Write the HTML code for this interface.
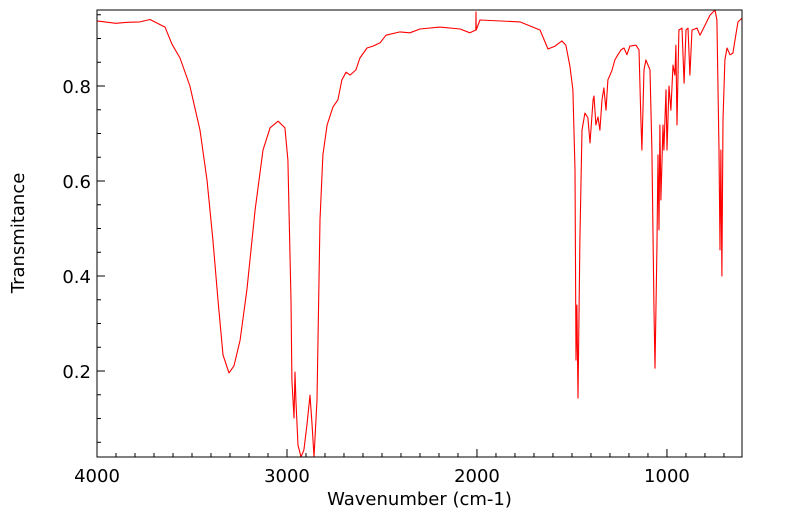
<!DOCTYPE html>
<html><head><meta charset="utf-8">
<style>
html,body{margin:0;padding:0;background:#fff;}
svg{display:block;font-family:"DejaVu Sans","Liberation Sans",sans-serif;}
</style></head>
<body>
<svg id="chart" width="799" height="516"></svg>
<script>
const wavenumbers=[4000,3900,3850,3774,3721,3642,3605,3563,3511,3458,3421,3390,3363,3337,3305,3279,3247,3211,3168,3126,3089,3047,3011,2995,2979,2974,2963,2958,2953,2942,2926,2911,2895,2879,2868,2858,2842,2826,2811,2789,2758,2732,2711,2689,2668,2637,2616,2579,2547,2510,2479,2405,2353,2300,2195,2089,2037,2006,2005,2004,1984,1774,1668,1626,1589,1553,1532,1511,1495,1484,1479,1474,1468,1458,1447,1432,1416,1405,1389,1384,1374,1363,1353,1342,1332,1321,1311,1300,1289,1274,1258,1242,1226,1211,1195,1163,1147,1137,1132,1121,1111,1100,1089,1079,1068,1063,1053,1047,1042,1037,1032,1021,1016,1005,1000,989,979,968,958,953,947,937,921,910,900,889,879,868,842,826,800,774,747,737,726,721,716,711,705,695,684,668,653,642,626,605];
const transmittance=[0.937,0.932,0.934,0.935,0.94,0.924,0.888,0.859,0.80,0.707,0.602,0.476,0.349,0.234,0.196,0.211,0.265,0.371,0.539,0.665,0.712,0.726,0.712,0.644,0.349,0.181,0.101,0.198,0.139,0.044,0.019,0.034,0.086,0.149,0.086,0.019,0.139,0.518,0.655,0.718,0.756,0.771,0.813,0.829,0.823,0.834,0.859,0.88,0.884,0.891,0.907,0.914,0.912,0.92,0.924,0.92,0.912,0.918,0.956,0.918,0.939,0.935,0.918,0.878,0.884,0.895,0.886,0.842,0.792,0.623,0.223,0.339,0.143,0.476,0.707,0.743,0.733,0.68,0.771,0.779,0.718,0.735,0.707,0.771,0.796,0.749,0.813,0.823,0.834,0.855,0.866,0.876,0.88,0.866,0.884,0.886,0.876,0.728,0.665,0.834,0.855,0.844,0.834,0.665,0.328,0.206,0.455,0.655,0.497,0.718,0.56,0.718,0.665,0.792,0.665,0.80,0.749,0.844,0.823,0.886,0.718,0.918,0.922,0.806,0.918,0.922,0.823,0.918,0.922,0.907,0.928,0.949,0.96,0.939,0.665,0.455,0.665,0.40,0.728,0.855,0.88,0.866,0.869,0.897,0.935,0.943];
const xTickLabels=[4000,3000,2000,1000];
const yTickLabels=[0.2,0.4,0.6,0.8];

const NS="http://www.w3.org/2000/svg";
const svg=document.getElementById('chart');
const L=97,R=742,T=10,B=457;
const xMax=4000,xMin=605,yMin=0.019,yMax=0.96;
const xs=v=>L+(xMax-v)/(xMax-xMin)*(R-L);
const ys=v=>B-(v-yMin)/(yMax-yMin)*(B-T);
function mk(tag,attrs){const e=document.createElementNS(NS,tag);for(const k in attrs)e.setAttribute(k,attrs[k]);svg.appendChild(e);return e;}

let d='';
wavenumbers.forEach((w,i)=>{d+=(i?'L':'M')+xs(w).toFixed(1)+','+ys(transmittance[i]).toFixed(1);});
const line=mk('path',{d:d,fill:'none',stroke:'#ff0000','stroke-width':1.1,'stroke-linejoin':'round'});



const frame=mk('rect',{x:L,y:T,width:R-L,height:B-T,fill:'none',stroke:'#000','stroke-width':1});



for(let w=4000;w>=xMin;w-=100){
  const x=xs(w);const major=w%1000===0;
  const t=mk('line',{x1:x,x2:x,y1:B,y2:B-(major?8:4),stroke:'#000','stroke-width':1});
  
  
}
xTickLabels.forEach(v=>{
  const t=mk('text',{x:xs(v),y:B+25,'text-anchor':'middle','font-size':18,fill:'#000'});
  t.textContent=v;
  
  
});
for(let k=1;k<=19;k++){
  const v=k*0.05;if(v<yMin||v>yMax)continue;
  const y=ys(v);const major=k%4===0;
  const t=mk('line',{x1:L,x2:L+(major?8:4),y1:y,y2:y,stroke:'#000','stroke-width':1});
  
  
}
yTickLabels.forEach(v=>{
  const t=mk('text',{x:L-6,y:ys(v)+7,'text-anchor':'end','font-size':18,fill:'#000'});
  t.textContent=v.toFixed(1);
  
  
});
const xt=mk('text',{x:(L+R)/2,y:505,'text-anchor':'middle','font-size':18,fill:'#000'});
xt.textContent='Wavenumber (cm-1)';


const yt=mk('text',{x:0,y:0,'text-anchor':'middle','font-size':18,fill:'#000',transform:'translate(24,233) rotate(-90)'});
yt.textContent='Transmitance';


</script>
</body></html>
